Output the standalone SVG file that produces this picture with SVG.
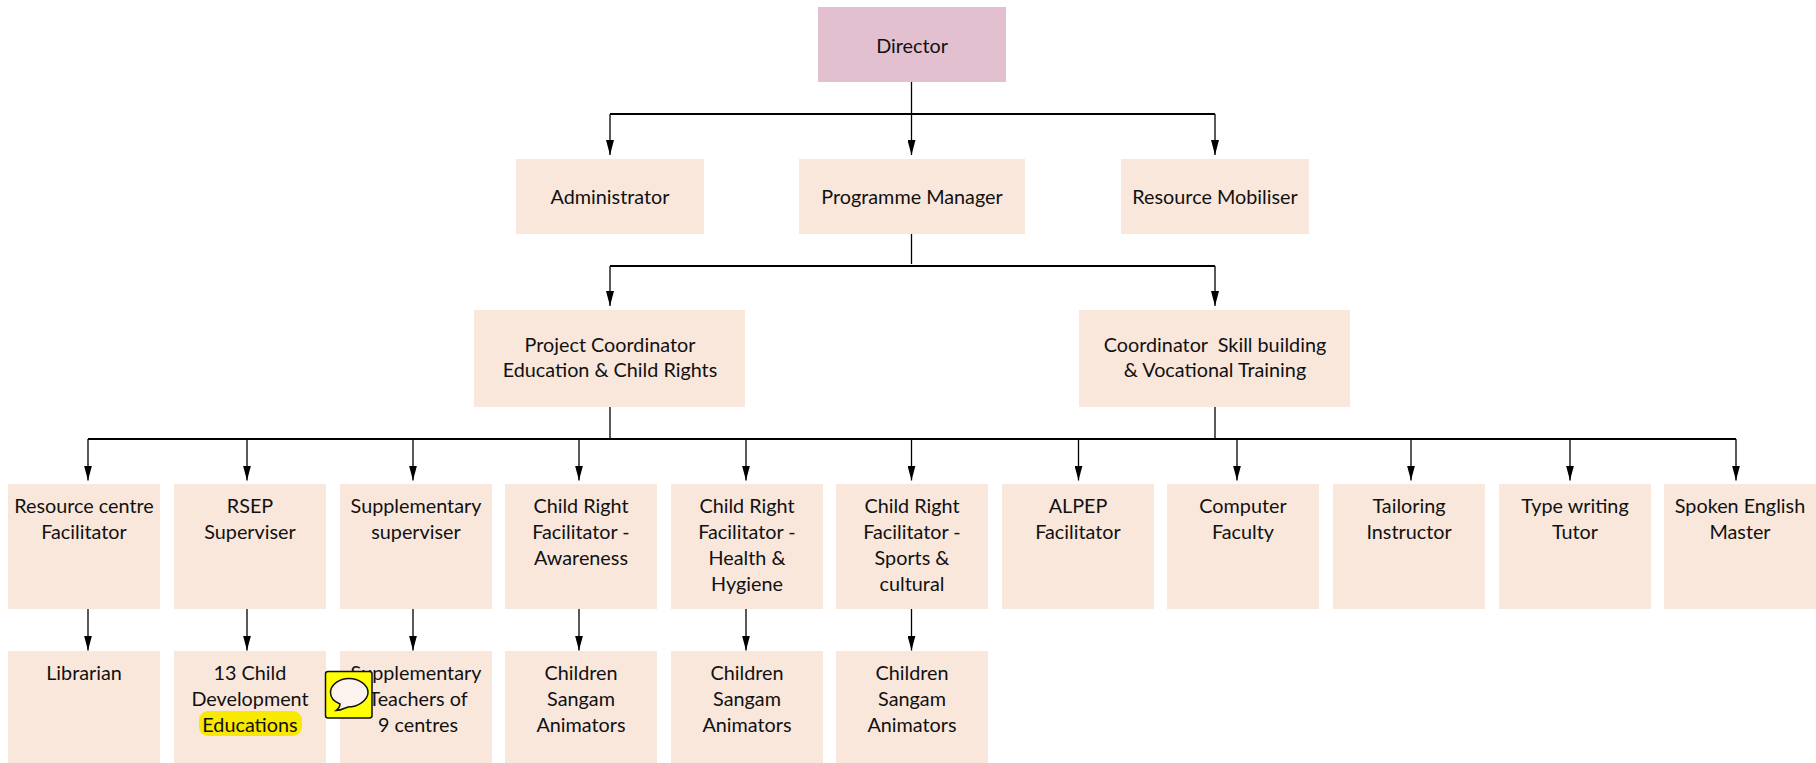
<svg xmlns="http://www.w3.org/2000/svg" width="1816" height="763" viewBox="0 0 1816 763">
<style>
.n{fill:#F9E7DC}
.d{fill:#E2C0D0}
text{font-family:"Lato","Open Sans","Liberation Sans",sans-serif;font-size:19.8px;fill:#111;text-anchor:middle}
.c{fill:none;stroke:#000;stroke-width:1.3}
.h{fill:none;stroke:#000;stroke-width:1.8}
.a{marker-end:url(#ah)}
</style>
<defs><marker id="ah" markerUnits="userSpaceOnUse" markerWidth="15" markerHeight="8" refX="15" refY="4" viewBox="0 0 15 8" orient="auto"><path d="M0 0L15 4L0 8Z" fill="#000"/></marker></defs>
<rect width="1816" height="763" fill="#fff"/>
<g id="connectors">
<path class="c" d="M911.500 82V114"/><path class="h" d="M610 114H1215"/>
<path class="c a" d="M911.500 114V155"/><path class="c a" d="M610 114V155"/><path class="c a" d="M1215 114V155"/>
<path class="c" d="M911.500 234V264"/><path class="h" d="M610 266H1215"/>
<path class="c a" d="M610 266V306"/><path class="c a" d="M1215 266V306"/>
<path class="c" d="M610 407V439"/><path class="c" d="M1215 407V439"/>
<path class="h" d="M88 439H1736"/>
<path class="c a" d="M88 439V480.500"/><path class="c a" d="M247 439V480.500"/><path class="c a" d="M413 439V480.500"/><path class="c a" d="M579 439V480.500"/><path class="c a" d="M746 439V480.500"/><path class="c a" d="M911.500 439V480.500"/><path class="c a" d="M1078.500 439V480.500"/><path class="c a" d="M1237 439V480.500"/><path class="c a" d="M1411 439V480.500"/><path class="c a" d="M1570 439V480.500"/><path class="c a" d="M1736 439V480.500"/>
<path class="c a" d="M88 609V650.500"/><path class="c a" d="M247 609V650.500"/><path class="c a" d="M413 609V650.500"/><path class="c a" d="M579 609V650.500"/><path class="c a" d="M746 609V650.500"/><path class="c a" d="M911.500 609V650.500"/>
</g>
<g id="director"><rect class="d" x="818" y="7" width="188" height="75"/><text x="912" y="53">Director</text></g>
<g id="administrator"><rect class="n" x="516" y="159" width="188" height="75"/><text x="610" y="204">Administrator</text></g>
<g id="programme-manager"><rect class="n" x="799" y="159" width="226" height="75"/><text x="912" y="204">Programme Manager</text></g>
<g id="resource-mobiliser"><rect class="n" x="1121" y="159" width="188" height="75"/><text x="1215" y="204">Resource Mobiliser</text></g>
<g id="project-coordinator"><rect class="n" x="474" y="310" width="271" height="97"/><text x="610" y="352">Project Coordinator</text><text x="610" y="377">Education &amp; Child Rights</text></g>
<g id="coordinator-skill"><rect class="n" x="1079" y="310" width="271" height="97"/><text x="1215" y="352" xml:space="preserve">Coordinator  Skill building</text><text x="1215" y="377">&amp; Vocational Training</text></g>
<g id="resource-centre"><rect class="n" x="8" y="484" width="152" height="125"/><text x="84" y="513">Resource centre</text><text x="84" y="539">Facilitator</text></g>
<g id="rsep"><rect class="n" x="174" y="484" width="152" height="125"/><text x="250" y="513">RSEP</text><text x="250" y="539">Superviser</text></g>
<g id="supp-sup"><rect class="n" x="340" y="484" width="152" height="125"/><text x="416" y="513">Supplementary</text><text x="416" y="539">superviser</text></g>
<g id="cr-awareness"><rect class="n" x="505" y="484" width="152" height="125"/><text x="581" y="513">Child Right</text><text x="581" y="539">Facilitator -</text><text x="581" y="565">Awareness</text></g>
<g id="cr-health"><rect class="n" x="671" y="484" width="152" height="125"/><text x="747" y="513">Child Right</text><text x="747" y="539">Facilitator -</text><text x="747" y="565">Health &amp;</text><text x="747" y="591">Hygiene</text></g>
<g id="cr-sports"><rect class="n" x="836" y="484" width="152" height="125"/><text x="912" y="513">Child Right</text><text x="912" y="539">Facilitator -</text><text x="912" y="565">Sports &amp;</text><text x="912" y="591">cultural</text></g>
<g id="alpep"><rect class="n" x="1002" y="484" width="152" height="125"/><text x="1078" y="513">ALPEP</text><text x="1078" y="539">Facilitator</text></g>
<g id="computer"><rect class="n" x="1167" y="484" width="152" height="125"/><text x="1243" y="513">Computer</text><text x="1243" y="539">Faculty</text></g>
<g id="tailoring"><rect class="n" x="1333" y="484" width="152" height="125"/><text x="1409" y="513">Tailoring</text><text x="1409" y="539">Instructor</text></g>
<g id="typewriting"><rect class="n" x="1499" y="484" width="152" height="125"/><text x="1575" y="513">Type writing</text><text x="1575" y="539">Tutor</text></g>
<g id="spoken"><rect class="n" x="1664" y="484" width="152" height="125"/><text x="1740" y="513">Spoken English</text><text x="1740" y="539">Master</text></g>
<g id="librarian"><rect class="n" x="8" y="651" width="152" height="112"/><text x="84" y="680">Librarian</text></g>
<g id="educators"><rect class="n" x="174" y="651" width="152" height="112"/><rect x="199" y="711" width="103" height="25" rx="9" fill="#F9E900"/><text x="250" y="680">13 Child</text><text x="250" y="706">Development</text><text x="250" y="732">Educations</text></g>
<g id="supp-teachers"><rect class="n" x="340" y="651" width="152" height="112"/><text x="416" y="680">Supplementary</text><text x="418" y="706">Teachers of</text><text x="418" y="732">9 centres</text></g>
<g id="animators-1"><rect class="n" x="505" y="651" width="152" height="112"/><text x="581" y="680">Children</text><text x="581" y="706">Sangam</text><text x="581" y="732">Animators</text></g>
<g id="animators-2"><rect class="n" x="671" y="651" width="152" height="112"/><text x="747" y="680">Children</text><text x="747" y="706">Sangam</text><text x="747" y="732">Animators</text></g>
<g id="animators-3"><rect class="n" x="836" y="651" width="152" height="112"/><text x="912" y="680">Children</text><text x="912" y="706">Sangam</text><text x="912" y="732">Animators</text></g>
<g id="comment-icon"><rect x="325.500" y="671.500" width="46.500" height="46.500" rx="2.500" fill="#FFFF00" stroke="#111" stroke-width="1.500"/><path d="M349 678.500C339 678.500 330.500 685 330.500 692.500C330.500 698 335 702 340 704C340 707 338 709 336 710.500C341 710.500 345 708 348 707C358 707 368 700 368 692.500C368 685 359 678.500 349 678.500Z" fill="#FDF3EE" stroke="#111" stroke-width="1.500"/></g>
</svg>
